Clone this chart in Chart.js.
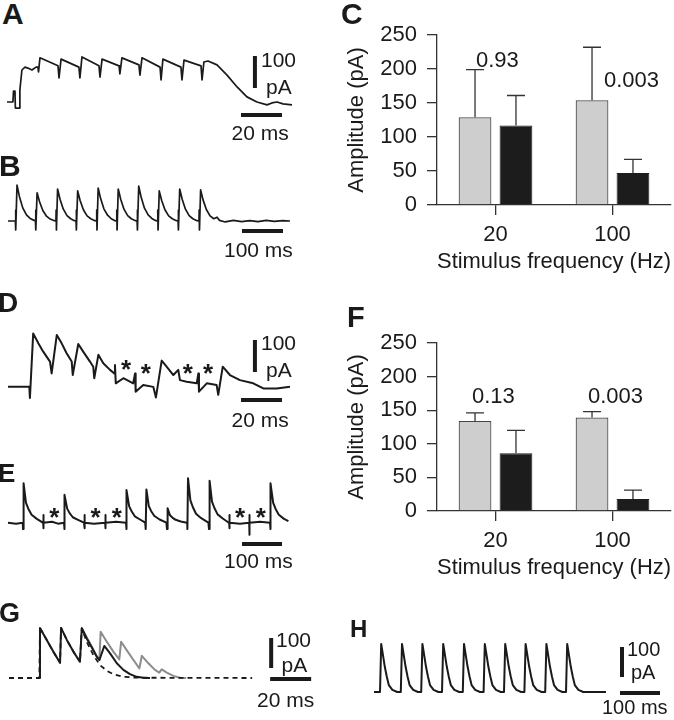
<!DOCTYPE html>
<html>
<head>
<meta charset="utf-8">
<script src="https://cdn.jsdelivr.net/npm/chart.js@4.4.1/dist/chart.umd.min.js"></script>
<style>
  body { margin: 0; background: #fff; }
  #fig { position: relative; width: 674px; height: 720px; overflow: hidden; font-family: 'Liberation Sans', Arial, sans-serif; color: #1a1a1a; }
  #fig canvas { position: absolute; }
  .t { position: absolute; line-height: 1; white-space: nowrap; font-size: 21px; }
  .p { font-weight: bold; }
</style>
</head>
<body>
<div id="fig">
  <canvas id="trA" width="300" height="80" style="left:0;top:40px"></canvas>
  <canvas id="trB" width="300" height="62" style="left:0;top:178px"></canvas>
  <canvas id="barC" width="337" height="285" style="left:337px;top:0"></canvas>
  <canvas id="trD" width="300" height="90" style="left:0;top:320px"></canvas>
  <canvas id="trE" width="300" height="80" style="left:0;top:470px"></canvas>
  <canvas id="barF" width="337" height="301" style="left:337px;top:290px"></canvas>
  <canvas id="trG" width="330" height="90" style="left:0;top:610px"></canvas>
  <canvas id="trH" width="337" height="80" style="left:337px;top:630px"></canvas>

  <div class="t p" style="left:2px;top:-1px;font-size:30px">A</div>
  <div class="t p" style="left:-1px;top:151px;font-size:30px">B</div>
  <div class="t p" style="left:341px;top:-1px;font-size:30px">C</div>
  <div class="t p" style="left:-2px;top:289px;font-size:28px">D</div>
  <div class="t p" style="left:-2px;top:460px;font-size:26px">E</div>
  <div class="t p" style="left:347px;top:303px;font-size:29px">F</div>
  <div class="t p" style="left:-1px;top:600px;font-size:27px">G</div>
  <div class="t p" style="left:350px;top:617px;font-size:24px">H</div>

  <div class="t" style="left:261px;top:49px">100</div>
  <div class="t" style="left:266px;top:75.5px">pA</div>
  <div class="t" style="left:231.5px;top:122px">20 ms</div>
  <div class="t" style="left:224px;top:239px">100 ms</div>
  <div class="t" style="left:261px;top:332px">100</div>
  <div class="t" style="left:266px;top:359px">pA</div>
  <div class="t" style="left:231.5px;top:409px">20 ms</div>
  <div class="t" style="left:224px;top:550px">100 ms</div>
  <div class="t" style="left:276px;top:629px">100</div>
  <div class="t" style="left:281.5px;top:654px">pA</div>
  <div class="t" style="left:257px;top:689px">20 ms</div>
  <div class="t" style="left:627px;top:639px;font-size:20px">100</div>
  <div class="t" style="left:631px;top:662px;font-size:20px">pA</div>
  <div class="t" style="left:602px;top:697px;font-size:20px">100 ms</div>

  <div class="t" style="left:476px;top:49px;font-size:22px">0.93</div>
  <div class="t" style="left:604px;top:69px;font-size:22px">0.003</div>
  <div class="t" style="left:472px;top:385px;font-size:22px">0.13</div>
  <div class="t" style="left:588px;top:385px;font-size:22px">0.003</div>
</div>
<script>
// bar panels C and F
const freqLabels = ['20', '100'];
const yTicks = [0, 50, 100, 150, 200, 250];
const cCtrl = [129, 154], cCtrlErr = [70, 78];
const cBlock = [117, 47], cBlockErr = [44, 20];
const fCtrl = [134, 139], fCtrlErr = [12, 9];
const fBlock = [86, 18], fBlockErr = [34, 13];

// traces: time (ms) and current (pA)
const aTime = [0, 2.9, 3.2, 3.9, 4.1, 5.9, 6.3, 7.3, 8.8, 10.2, 12.2, 14.2, 15.1, 15.4, 16.1, 24.9, 25.4, 26.4, 35.1, 35.6, 36.6, 44.9, 45.4, 46.4, 54.7, 55.1, 56.1, 64.4, 64.9, 65.9, 74.7, 75.2, 76.1, 84.9, 85.4, 86.4, 94.7, 95.2, 96.1, 98.1, 102.5, 107.4, 112.3, 117.1, 122.0, 126.9, 129.3, 131.8, 134.7, 139.1];
const aCurr = [0, 0, 34, 34, -19, -19, 38, 100, 109, 106, 100, 109, 109, 94, 138, 113, 75, 134, 109, 75, 141, 113, 78, 134, 113, 88, 138, 116, 84, 138, 109, 69, 134, 109, 69, 131, 113, 69, 125, 128, 116, 84, 47, 16, 0, -9, -3, 0, -6, -9];

const bTime = [0, 18, 18.5, 19.2, 22, 28, 36, 45, 54, 64, 67, 67.5, 68.2, 71, 77, 85, 94, 103, 113, 117, 117.5, 118.2, 121, 127, 135, 144, 153, 162, 166, 166.5, 167.2, 170, 176, 184, 193, 202, 212, 216, 216.5, 217.2, 220, 226, 234, 243, 252, 261, 265, 265.5, 266.2, 269, 275, 283, 292, 301, 311, 315, 315.5, 316.2, 319, 325, 333, 342, 351, 361, 365, 365.5, 366.2, 369, 375, 383, 392, 401, 411, 415, 415.5, 416.2, 419, 425, 433, 442, 451, 461, 466, 466.5, 467.2, 470, 476, 484, 493, 502, 510, 516, 530, 550, 570, 590, 610, 630, 650, 670, 688];
const bCurr = [0, 0, 34, -28, 112, 76, 41, 19, 8, 2, 0, 34, -28, 88, 60, 33, 15, 6, 1, 0, 34, -28, 100, 68, 37, 17, 7, 1, 0, 34, -28, 94, 64, 35, 16, 7, 1, 0, 34, -28, 103, 70, 38, 18, 7, 1, 0, 34, -28, 100, 68, 37, 17, 7, 1, 0, 34, -28, 109, 74, 40, 19, 8, 1, 0, 34, -28, 94, 64, 35, 16, 7, 1, 0, 34, -28, 100, 68, 37, 17, 7, 1, 0, 34, -28, 97, 66, 36, 16, 7, 12, 2, -3, 2, -2, 1, -2, 2, -1, 1, 0];

const dTime = [0, 10.4, 10.7, 12.3, 14.8, 17.2, 20.5, 21.3, 23.8, 26.2, 28.6, 31.1, 31.6, 34.3, 36.7, 40.0, 41.6, 42.1, 44.1, 46.5, 49.8, 51.9, 52.2, 52.6, 56.3, 61.1, 62.0, 62.3, 66.0, 70.9, 72.2, 75.0, 77.4, 80.7, 83.1, 83.9, 87.2, 92.1, 92.9, 93.2, 97.0, 101.8, 102.6, 104.8, 108.3, 113.2, 119.7, 124.6, 131.1, 137.6];
const dCurr = [2, 2, -33, 169, 138, 112, 81, 44, 164, 138, 107, 81, 39, 136, 112, 81, 65, 29, 102, 76, 55, 44, 70, 13, 29, 13, 44, -13, 8, 2, -31, 84, 65, 39, 55, 23, 18, 13, 44, -13, 13, 8, -23, 65, 39, 23, 13, -3, -3, 2];
const dStarTime = [57.6, 67.2, 87.7, 97.6];
const dStarCurr = [78, 65, 65, 63];

const eTime = [0, 20, 37, 37.5, 39, 45, 51, 59, 72, 87, 88, 88.3, 88.7, 89.3, 110, 125, 140, 140.5, 142, 148, 154, 162, 175, 190, 191, 191.3, 191.7, 192.3, 215, 243, 243.3, 243.7, 244.3, 270, 295, 295.5, 297, 303, 309, 317, 330, 343, 344, 344.5, 346, 352, 358, 366, 379, 396, 397, 397.5, 399, 405, 411, 419, 432, 447, 448, 448.5, 450, 456, 462, 470, 483, 501, 502, 502.5, 504, 510, 516, 524, 537, 552, 553, 553.3, 553.7, 554.3, 580, 603, 603.3, 603.7, 604.3, 630, 655, 655.5, 657, 663, 669, 677, 690, 701];
const eCurr = [0, -3, 0, -20, 123, 62, 43, 25, 12, 0, 0, 24, -17, 0, 3, -3, 0, -20, 87, 44, 30, 17, 9, 0, 0, 24, -17, 0, -3, 0, 24, -17, 0, 3, 0, -20, 102, 51, 36, 20, 10, 0, 0, -20, 104, 52, 36, 21, 10, 0, 0, -20, 45, 23, 16, 9, 4, 0, 0, -20, 139, 70, 49, 28, 14, 0, 0, -20, 131, 66, 46, 26, 13, 0, 0, 24, -17, 0, -3, 0, 24, -38, 0, 3, 0, -20, 123, 62, 43, 25, 12, 5];
const eStarTime = [116, 219, 272, 580, 632];
const eStarCurr = [37, 37, 37, 37, 37];

const gDashTime = [0, 14.8, 15.1, 18.4, 21.6, 24.9, 25.4, 28.2, 31.4, 34.6, 35.5, 37.9, 41.1, 44.4, 47.7, 50.9, 55.8, 62.3, 118.6];
const gDashCurr = [0, 0, 167, 127, 88, 51, 167, 127, 88, 54, 166, 121, 77, 43, 24, 13, 4, 1, 0];
const gBlackTime = [14.8, 15.1, 18.4, 21.6, 24.9, 25.4, 28.2, 31.4, 34.6, 35.5, 37.9, 40.4, 42.8, 44.1, 46.5, 49.3, 52.6, 55.8, 59.0, 62.3, 65.5, 68.8];
const gBlackCurr = [0, 167, 127, 88, 51, 167, 127, 88, 54, 166, 132, 102, 71, 60, 107, 82, 49, 27, 13, 4, 1, 0];
const gGrayTime = [35.5, 37.9, 40.4, 42.8, 44.1, 44.7, 47.7, 50.9, 53.8, 54.7, 57.4, 60.7, 63.6, 64.8, 68.0, 71.2, 73.3, 74.5, 77.0, 80.2, 83.4, 86.4];
const gGrayCurr = [166, 136, 104, 73, 60, 154, 121, 88, 62, 121, 93, 60, 32, 74, 49, 27, 18, 29, 18, 7, 1, 0];

const hTime = [0, 15, 18, 23, 27, 32, 37, 46, 58, 67, 70, 75, 79, 84, 89, 98, 110, 118, 121, 126, 130, 135, 140, 149, 161, 170, 173, 178, 182, 187, 192, 201, 213, 222, 225, 230, 234, 239, 244, 253, 265, 274, 277, 282, 286, 291, 296, 305, 317, 325, 328, 333, 337, 342, 347, 356, 368, 376, 379, 384, 388, 393, 398, 407, 419, 428, 431, 436, 440, 445, 450, 459, 471, 480, 483, 488, 492, 497, 502, 511, 523, 580];
const hCurr = [0, 0, 160, 118, 84, 51, 23, 7, 0, 0, 160, 118, 84, 51, 23, 7, 0, 0, 160, 118, 84, 51, 23, 7, 0, 0, 160, 118, 84, 51, 23, 7, 0, 0, 160, 118, 84, 51, 23, 7, 0, 0, 160, 118, 84, 51, 23, 7, 0, 0, 160, 118, 84, 51, 23, 7, 0, 0, 160, 118, 84, 51, 23, 7, 0, 0, 160, 118, 84, 51, 23, 7, 0, 0, 160, 118, 84, 51, 23, 7, 0, 0];

const ink = '#1a1a1a';
Chart.defaults.font.family = "'Liberation Sans', Arial, sans-serif";

// scale bars drawn in data units through the chart scales
function scaleBars(cfg) {
  return {
    id: 'scaleBars',
    afterDraw(chart) {
      const { ctx, scales: { x, y } } = chart;
      ctx.save();
      ctx.strokeStyle = ink;
      ctx.lineWidth = 4;
      if (cfg.h) {
        const py = y.getPixelForValue(cfg.h[2]);
        ctx.beginPath();
        ctx.moveTo(x.getPixelForValue(cfg.h[0]), py);
        ctx.lineTo(x.getPixelForValue(cfg.h[1]), py);
        ctx.stroke();
      }
      if (cfg.v) {
        const px = x.getPixelForValue(cfg.v[0]);
        ctx.beginPath();
        ctx.moveTo(px, y.getPixelForValue(cfg.v[1]));
        ctx.lineTo(px, y.getPixelForValue(cfg.v[2]));
        ctx.stroke();
      }
      ctx.restore();
    }
  };
}

function starMarks(times, currs) {
  return {
    id: 'starMarks',
    afterDraw(chart) {
      const { ctx, scales: { x, y } } = chart;
      ctx.save();
      ctx.fillStyle = ink;
      ctx.font = "bold 26px 'Liberation Sans', Arial, sans-serif";
      ctx.textAlign = 'center';
      ctx.textBaseline = 'alphabetic';
      times.forEach((t, k) => {
        ctx.fillText('*', x.getPixelForValue(t), y.getPixelForValue(currs[k]) + 15);
      });
      ctx.restore();
    }
  };
}

function traceChart(id, xr, yr, lines, bars, stars) {
  const plugins = [scaleBars(bars || {})];
  if (stars) plugins.push(starMarks(stars[0], stars[1]));
  return new Chart(document.getElementById(id), {
    type: 'line',
    data: {
      datasets: lines.map(l => ({
        data: l.t.map((t, k) => ({ x: t, y: l.i[k] })),
        borderColor: l.color || ink,
        borderWidth: l.width || 1.8,
        borderDash: l.dash || [],
        borderJoinStyle: 'round',
        pointRadius: 0,
        tension: 0,
        fill: false,
        clip: false
      }))
    },
    options: {
      responsive: false,
      animation: false,
      events: [],
      layout: { padding: 0 },
      scales: {
        x: { type: 'linear', display: false, min: xr[0], max: xr[1] },
        y: { display: false, min: yr[0], max: yr[1] }
      },
      plugins: { legend: { display: false }, tooltip: { enabled: false } }
    },
    plugins: plugins
  });
}

traceChart('trA', [-3.4, 143.0], [-56.25, 193.75],
  [{ t: aTime, i: aCurr, width: 1.7 }],
  { h: [114.2, 134.2, -40.6], v: [121.0, 43.75, 143.75] });

traceChart('trB', [-19.5, 712.5], [-59.4, 134.4],
  [{ t: bTime, i: bCurr, width: 1.7 }],
  { h: [571, 671, -31.25] });

traceChart('trD', [-3.9, 142.5], [-70.3, 210.9],
  [{ t: dTime, i: dCurr, width: 2 }],
  { h: [113.7, 133.7, -39.1], v: [120.5, 48.4, 148.4] },
  [dStarTime, dStarCurr]);

traceChart('trE', [-20, 730], [-85.3, 164.7],
  [{ t: eTime, i: eCurr, width: 2 }],
  { h: [585, 685, -66.6] },
  [eStarTime, eStarCurr]);

traceChart('trG', [-4.4, 156.6], [-73.3, 226.7],
  [
    { t: gDashTime, i: gDashCurr, width: 1.8, dash: [5, 4] },
    { t: gBlackTime, i: gBlackCurr, width: 2 },
    { t: gGrayTime, i: gGrayCurr, width: 2, color: '#8c8c8c' }
  ],
  { h: [127.4, 147.4, -3.3], v: [127.9, 33.3, 133.3] });

traceChart('trH', [-92.5, 750], [-60, 206.7],
  [{ t: hTime, i: hCurr, width: 2 }],
  { h: [615, 715, -3.3], v: [620, 50, 150] });

// upward error bars with caps
const errorBars = {
  id: 'errorBars',
  afterDatasetsDraw(chart) {
    const { ctx, scales: { y } } = chart;
    ctx.save();
    ctx.strokeStyle = '#333';
    ctx.lineWidth = 1.3;
    chart.data.datasets.forEach((ds, i) => {
      chart.getDatasetMeta(i).data.forEach((bar, j) => {
        const top = y.getPixelForValue(ds.data[j] + ds.errors[j]);
        ctx.beginPath();
        ctx.moveTo(bar.x, bar.y);
        ctx.lineTo(bar.x, top);
        ctx.moveTo(bar.x - 9, top);
        ctx.lineTo(bar.x + 9, top);
        ctx.stroke();
      });
    });
    ctx.restore();
  }
};

function barChart(id, ctrl, ctrlErr, block, blockErr, topPad) {
  return new Chart(document.getElementById(id), {
    type: 'bar',
    data: {
      labels: freqLabels,
      datasets: [
        { data: ctrl, errors: ctrlErr, backgroundColor: '#cecece', borderColor: '#454545', borderWidth: 1.2 },
        { data: block, errors: blockErr, backgroundColor: '#1c1c1c', borderColor: '#1c1c1c', borderWidth: 1 }
      ]
    },
    options: {
      responsive: false,
      animation: false,
      events: [],
      datasets: { bar: { categoryPercentage: 0.7, barPercentage: 0.8 } },
      layout: { padding: { top: topPad, right: 3, left: 0, bottom: 0 } },
      plugins: { legend: { display: false }, tooltip: { enabled: false } },
      scales: {
        x: {
          grid: { drawOnChartArea: false, offset: false, tickLength: 10, color: '#333', lineWidth: 1.3 },
          border: { color: '#333', width: 1.3 },
          ticks: { color: ink, font: { size: 22 }, padding: 7 },
          title: { display: true, text: 'Stimulus frequency (Hz)', color: ink, font: { size: 22, lineHeight: 1.2 }, padding: { top: 0, bottom: 10 } },
          afterFit: s => { s.height = 80; }
        },
        y: {
          min: 0,
          max: 250,
          afterBuildTicks: s => { s.ticks = yTicks.map(v => ({ value: v })); },
          grid: { drawOnChartArea: false, tickLength: 10, color: '#333', lineWidth: 1.3 },
          border: { color: '#333', width: 1.3 },
          ticks: { color: ink, font: { size: 22 }, padding: 10 },
          title: { display: true, text: 'Amplitude (pA)', color: ink, font: { size: 22, lineHeight: 1.2 }, padding: { top: 7, bottom: 0 } },
          afterFit: s => { s.width = 100; }
        }
      }
    },
    plugins: [errorBars]
  });
}

barChart('barC', cCtrl, cCtrlErr, cBlock, cBlockErr, 35);
barChart('barF', fCtrl, fCtrlErr, fBlock, fBlockErr, 53);
</script>
</body>
</html>
